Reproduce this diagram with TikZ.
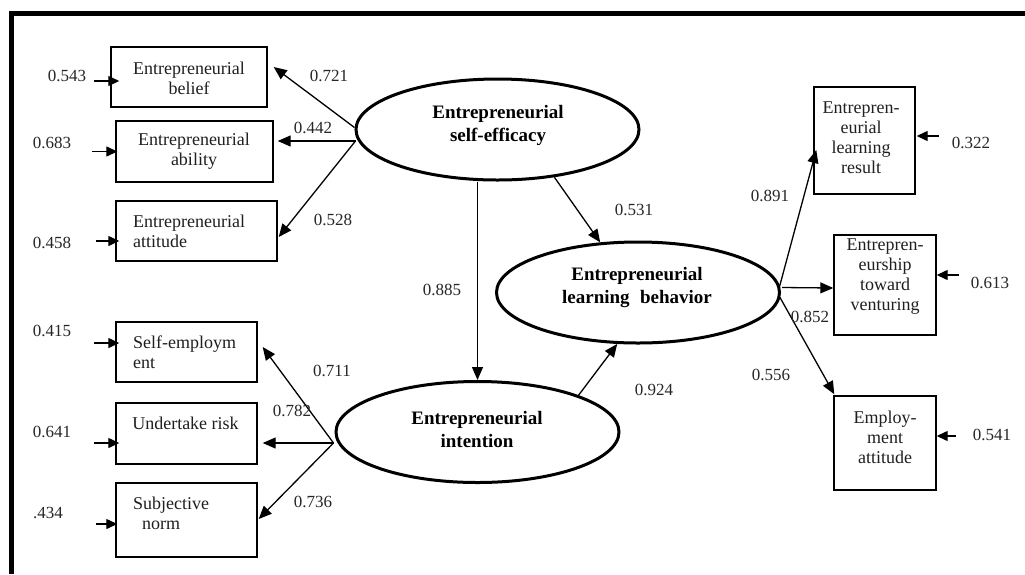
\documentclass[tikz,border=0pt]{standalone}
\usepackage{fontspec}
\setmainfont{Liberation Serif}
\usetikzlibrary{arrows.meta,shapes.geometric,calc}
\begin{document}
\begin{tikzpicture}[x=1pt,y=-1pt,
  box/.style={draw=black,line width=1.4pt,rectangle,inner sep=0pt},
  ell/.style={draw=black,line width=3pt,ellipse,inner sep=0pt,minimum width=283pt,minimum height=101pt},
  txt/.style={inner sep=0pt,text=black!88,font=\fontsize{18}{20}\selectfont},
  etxt/.style={inner sep=0pt,align=center,text=black,font=\fontsize{19}{23}\selectfont\bfseries},
  num/.style={inner sep=0pt,text=black!85,font=\fontsize{17}{20}\selectfont},
  path/.style={line width=1.3pt,-{Triangle[length=13pt,width=11pt]}},
  err/.style={line width=1.3pt,-{Triangle[length=11pt,width=10pt]}}]
\useasboundingbox (0,0) rectangle (1025,574);
% frame
\draw[line width=5pt] (9,13.5) -- (1025,13.5);
\draw[line width=5pt] (11.5,11) -- (11.5,574);

% left boxes
\node[box,minimum width=156pt,minimum height=60pt] (b1) at (189,77) {};
\node[box,minimum width=157pt,minimum height=61pt] (b2) at (194.5,151.5) {};
\node[box,minimum width=161pt,minimum height=60pt] (b3) at (196.5,231) {};
\node[box,minimum width=141pt,minimum height=60pt] (b4) at (186.5,352) {};
\node[box,minimum width=141pt,minimum height=61pt] (b5) at (186.5,433.5) {};
\node[box,minimum width=141pt,minimum height=74pt] (b6) at (186.5,520) {};
% right boxes
\node[box,minimum width=101pt,minimum height=107pt] (b7) at (864.5,140.5) {};
\node[box,minimum width=102pt,minimum height=100pt] (b8) at (885,285) {};
\node[box,minimum width=102pt,minimum height=94pt] (b9) at (885,443) {};

% box texts
\node[txt,align=center] (t1) at (189,78) {Entrepreneurial\\belief};
\node[txt,align=center] (t2) at (194,151.5) {Entrepreneurial\\ability};
\node[txt,align=left,anchor=west] (t3) at (133,231) {Entrepreneurial\\attitude};
\node[txt,align=left,anchor=west] (t4) at (133,352) {Self-employm\\ent};
\node[txt] (t5) at (185.5,423) {Undertake risk};
\node[txt,align=left,anchor=west] (t6) at (133,513) {Subjective\\\hspace*{9pt}norm};
\node[txt,align=center] (t7) at (861,138) {Entrepren-\\eurial\\learning\\result};
\node[txt,align=center] (t8) at (885,277) {Entrepren-\\eurship\\toward\\venturing};
\node[txt,align=center] (t9) at (885,437) {Employ-\\ment\\attitude};

% ellipses
\node[ell] (e1) at (497.5,129.5) {};
\node[ell] (e2) at (638,292.5) {};
\node[ell] (e3) at (477.5,432) {};
\node[etxt] (et1) at (498,125.5) {Entrepreneurial\\self-efficacy};
\node[etxt] (et2) at (637,287) {Entrepreneurial\\learning\hspace{0.3em} behavior};
\node[etxt] (et3) at (477,429.5) {Entrepreneurial\\intention};

% paths from self-efficacy to indicators
\draw[path] ($(e1.west)+(0,-2)$) -- ($(b1.east)+(6,-10)$);
\draw[path] ($(e1.west)+(1,11.5)$) -- ($(b2.east)+(4,-10.5)$);
\draw[path] ($(e1.west)+(1,11.5)$) -- ($(b3.east)+(1,6)$);
% paths from intention to indicators
\draw[path] ($(e3.west)+(-1,11)$) -- ($(b4.east)+(5,-5)$);
\draw[path] ($(e3.west)+(-1,11)$) -- ($(b5.east)+(5,9.5)$);
\draw[path] ($(e3.west)+(-1,11)$) -- ($(b6.east)+(1,-1)$);
% structural paths
\draw[path] ($(e1.south)+(-20,0)$) -- (e3.north);
\draw[path] (e1.-40) -- (e2.127);
\draw[path] (e3.20) -- (e2.248);
% learning behaviour to indicators
\draw[path] ($(e2.east)+(-2,-4)$) -- ($(b7.west)+(3,9.5)$);
\draw[path] ($(e2.east)+(1,-5)$) -- ($(b8.west)+(0,3)$);
\draw[path] ($(e2.east)+(-1,5)$) -- ($(b9.north west)+(1,-1)$);

% error arrows left
\draw[err] ($(b1.west)+(-16,4)$) -- ($(b1.west)+(9,4)$);
\draw[err] ($(b2.west)+(-23,0)$) -- ($(b2.west)+(2,0)$);
\draw[err] ($(b3.west)+(-19,10)$) -- ($(b3.west)+(4,10)$);
\draw[err] ($(b4.west)+(-21,-9)$) -- ($(b4.west)+(4,-9)$);
\draw[err] ($(b5.west)+(-21,9.5)$) -- ($(b5.west)+(4,9.5)$);
\draw[err] ($(b6.west)+(-19,4)$) -- ($(b6.west)+(2,4)$);
% error arrows right
\draw[err] ($(b7.east)+(23,-4.5)$) -- ($(b7.east)+(1,-4.5)$);
\draw[err] ($(b8.east)+(22,-10)$) -- ($(b8.east)+(0,-10)$);
\draw[err] ($(b9.east)+(19,-7)$) -- ($(b9.east)+(0,-7)$);

% error values
\node[num] (n1) at (67,76) {0.543};
\node[num] (n2) at (52,143) {0.683};
\node[num] (n3) at (52,243) {0.458};
\node[num] (n4) at (52,331) {0.415};
\node[num] (n5) at (52,432) {0.641};
\node[num] (n6) at (48,513) {.434};
\node[num] (n7) at (971,143) {0.322};
\node[num] (n8) at (990,283) {0.613};
\node[num] (n9) at (992,435) {0.541};

% path coefficients
\node[num] (c1) at (329,76) {0.721};
\node[num] (c2) at (313,128) {0.442};
\node[num] (c3) at (333,220) {0.528};
\node[num] (c4) at (332,371) {0.711};
\node[num] (c5) at (292,411) {0.782};
\node[num] (c6) at (313,502) {0.736};
\node[num] (c7) at (442,290) {0.885};
\node[num] (c8) at (634,210) {0.531};
\node[num] (c9) at (654,390) {0.924};
\node[num] (c10) at (770,196) {0.891};
\node[num] (c11) at (810,317) {0.852};
\node[num] (c12) at (771,375) {0.556};
\end{tikzpicture}
\end{document}
